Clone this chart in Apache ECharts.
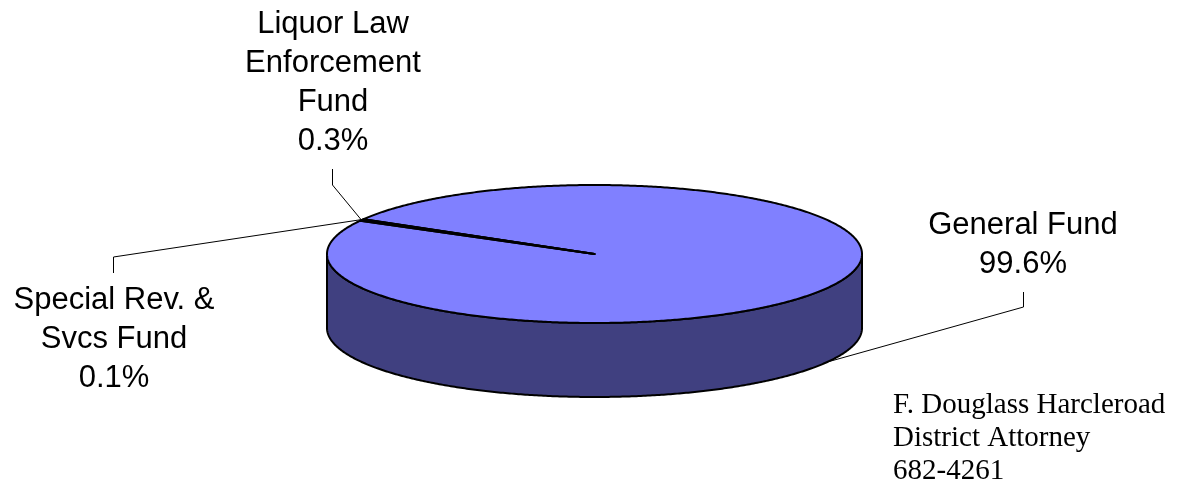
<!DOCTYPE html>
<html><head><meta charset="utf-8">
<script src="https://cdn.jsdelivr.net/npm/echarts@6/dist/echarts.min.js"></script>
<style>html,body{margin:0;padding:0;background:#fff}#main{width:1188px;height:483px}</style>
</head><body><div id="main"></div>
<script>
// ---- data ----
const categories = ['General Fund', 'Liquor Law Enforcement Fund', 'Special Rev. & Svcs Fund'];
const labelLines = [['General Fund'], ['Liquor Law', 'Enforcement', 'Fund'], ['Special Rev. &', 'Svcs Fund']];
const values = [99.6, 0.3, 0.1];
const percentLabels = ['99.6%', '0.3%', '0.1%'];
const footerLines = ['F. Douglass Harcleroad', 'District Attorney', '682-4261'];

// ---- layout / style ----
const PIE = { cx: 594.5, cy: 254, rx: 267.5, ry: 69, depth: 74, startAngle: 210.32 };
const TOP_COLOR = '#8080FF', SIDE_COLOR = '#404080';
const LABEL_LAYOUT = [
  { x: 1023, y: 205.5, elbow: [1023.5, 307], end: [1023.5, 292] },
  { x: 333, y: 5, elbow: [332.5, 185], end: [332.5, 169] },
  { x: 114, y: 280.5, elbow: [113.5, 257], end: [113.5, 273] }
];

const total = values.reduce((a, b) => a + b, 0);
function ang(i) { // cumulative start/end in degrees (clockwise on screen)
  let s = PIE.startAngle;
  for (let k = 0; k < i; k++) s += values[k] / total * 360;
  return [s, s + values[i] / total * 360];
}
function pt(deg, dy) {
  const r = deg * Math.PI / 180;
  return [PIE.cx + PIE.rx * Math.cos(r), PIE.cy + PIE.ry * Math.sin(r) + (dy || 0)];
}
function arc(a0, a1, dy) {
  const pts = [];
  const n = Math.max(2, Math.ceil(Math.abs(a1 - a0) / 0.5));
  for (let k = 0; k <= n; k++) pts.push(pt(a0 + (a1 - a0) * k / n, dy));
  return pts;
}

function renderItem(params, api) {
  const i = params.dataIndex;
  const [a0, a1] = ang(i);
  const children = [];
  // front side wall: intersect [a0,a1] with front half (0..180 mod 360)
  for (let base = -720; base <= 720; base += 360) {
    const s = Math.max(a0, base), e = Math.min(a1, base + 180);
    if (e > s) {
      const top = arc(s, e, 0);
      const bot = arc(e, s, PIE.depth);
      children.push({ type: 'polygon', z2: 1, shape: { points: top.concat(bot) },
        style: { fill: SIDE_COLOR, stroke: '#000', lineWidth: 2, lineJoin: 'round' } });
    }
  }
  // top face
  children.push({ type: 'polygon', z2: 2,
    shape: { points: [[PIE.cx, PIE.cy]].concat(arc(a0, a1, 0)) },
    style: { fill: TOP_COLOR, stroke: '#000', lineWidth: 2, lineJoin: 'round' } });
  // leader + label
  const mid = (a0 + a1) / 2;
  const front = Math.sin(mid * Math.PI / 180) > 0;
  const anchor = pt(mid, front ? PIE.depth : 0);
  const L = LABEL_LAYOUT[i];
  children.push({ type: 'polyline', z2: 3,
    shape: { points: [anchor, L.elbow, L.end] },
    style: { fill: null, stroke: '#000', lineWidth: 1 } });
  children.push({ type: 'text', z2: 4,
    style: { text: labelLines[i].concat([percentLabels[i]]).join('\n'),
      x: L.x, y: L.y, align: 'center', verticalAlign: 'top',
      fontSize: 31, fontFamily: '"Liberation Sans", Arial, sans-serif',
      lineHeight: 39, fill: '#000' } });
  return { type: 'group', children };
}

const chart = echarts.init(document.getElementById('main'), null, { renderer: 'canvas' });
chart.setOption({
  animation: false,
  backgroundColor: '#fff',
  series: [{
    type: 'custom',
    coordinateSystem: 'none',
    renderItem,
    data: values.map((v, i) => ({ name: categories[i], value: [i, v] }))
  }],
  graphic: [{
    type: 'text', left: 893, top: 389, z: 10,
    style: { text: footerLines.join('\n'), fontSize: 29,
      fontFamily: '"Liberation Serif", "Times New Roman", serif',
      lineHeight: 33, fill: '#000', align: 'left' }
  }]
});
</script></body></html>
